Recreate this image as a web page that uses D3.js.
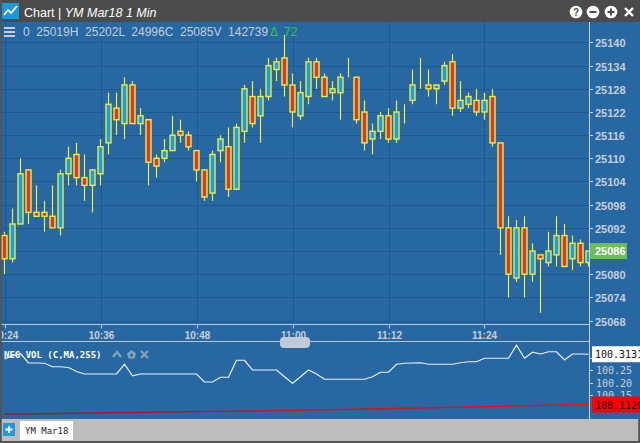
<!DOCTYPE html>
<html>
<head>
<meta charset="utf-8">
<script src="https://cdn.jsdelivr.net/npm/d3@7"></script>
<style>
  body { margin: 0; background: #4b4b4b; overflow: hidden; }
  svg { display: block; }
</style>
</head>
<body>
<svg width="640" height="443"></svg>
<script>
// one-minute bars, YM Mar18, starting 10:24
const startTime = "10:24";
const opens = [25090,25084,25093,25107,25096,25096,25095,25092,25106,25111,25105,25103,25106,25114,25123,25119,25129,25119,25120,25110,
  25110,25112,25117,25116,25112,25107,25101,25112,25113,25102,25117,25126,25121,25126,25133,25136,25129,25121,25126,25135,
  25131,25127,25127,25131,25131,25122,25115,25117,25121,25115,25123,25125,25130,25129,25128,25130,25135,25123,25124,25125,
  25122,25126,25114,25092,25079,25092,25080,25085,25083,25085,25090,25084,25088,25083];
const highs = [25091,25097,25110,25107,25103,25099,25103,25107,25113,25114,25111,25107,25115,25127,25127,25131,25130,25123,25120,25111,
  25115,25121,25120,25117,25112,25107,25112,25116,25118,25119,25129,25130,25128,25136,25136,25142,25132,25130,25136,25136,
  25132,25130,25132,25136,25131,25125,25119,25122,25123,25125,25124,25133,25136,25133,25129,25135,25137,25130,25127,25128,
  25127,25128,25114,25095,25094,25095,25088,25085,25091,25095,25093,25090,25089,25086];
const lows = [25080,25083,25093,25093,25095,25091,25092,25090,25103,25103,25099,25096,25103,25111,25116,25115,25119,25116,25103,25105,
  25109,25112,25114,25112,25104,25099,25099,25109,25100,25102,25114,25118,25114,25125,25130,25126,25118,25120,25124,25128,
  25126,25125,25120,25131,25119,25112,25111,25115,25114,25114,25119,25124,25128,25126,25124,25129,25121,25122,25123,25121,
  25120,25113,25085,25074,25078,25074,25078,25070,25082,25082,25082,25081,25082,25082];
const closes = [25084,25093,25106,25096,25095,25095,25092,25106,25110,25105,25103,25107,25113,25124,25120,25129,25119,25121,25109,25108,
  25112,25116,25116,25113,25107,25100,25111,25115,25102,25118,25128,25119,25126,25134,25135,25129,25122,25127,25135,25131,
  25126,25128,25131,25131,25120,25114,25117,25121,25115,25122,25123,25129,25130,25128,25129,25134,25123,25125,25126,25122,
  25125,25114,25092,25080,25092,25080,25086,25084,25086,25090,25082,25088,25083,25086];

// NEG VOL study, one value per bar
const negVol = [100.294,100.306,100.316,100.278,100.278,100.277,100.263,100.263,100.260,100.244,100.234,100.234,100.234,100.234,100.234,
  100.273,100.227,100.234,100.234,100.234,100.234,100.234,100.234,100.234,100.234,100.202,100.202,100.221,100.221,100.289,
  100.289,100.250,100.250,100.250,100.250,100.223,100.197,100.223,100.250,100.234,100.213,100.213,100.213,100.213,100.213,
  100.213,100.223,100.241,100.241,100.273,100.277,100.278,100.279,100.273,100.273,100.273,100.273,100.279,100.283,100.283,
  100.297,100.297,100.297,100.297,100.349,100.297,100.321,100.314,100.323,100.323,100.290,100.314,100.314,100.3131];
// moving average read at a few bars
const maBars = [0, 18, 37, 55, 73];
const maValues = [100.073, 100.081, 100.089, 100.100, 100.1120];

const priceTicks = [25068, 25074, 25080, 25086, 25092, 25098, 25104, 25110, 25116, 25122, 25128, 25134, 25140];
const studyTicks = [100.15, 100.20, 100.25, 100.30];
const timeTicks = ["10:24", "10:36", "10:48", "11:00", "11:12", "11:24"];

const hudText = "0  25019H  25202L  24996C  25085V  142739";
const hudChange = "72";
const studyName = "NEG VOL (C,MA,255)";

const bg = "#2767a2", grid = "#1d5890", axisText = "#c6cfda";
const upFill = "#1aa0e2", downFill = "#d63a2a", edge = "#f4ec3a";
const sans = "'Liberation Sans', Arial, sans-serif";
const mono = "'DejaVu Sans Mono', monospace";

const svg = d3.select("svg");
const parse = d3.timeParse("%H:%M");
const t0 = parse(startTime);

let bars = opens.map((o, i) => ({
  t: d3.timeMinute.offset(t0, i), o: o, h: highs[i], l: lows[i], c: closes[i]
}));

let x = d3.scaleTime()
  .domain([t0, d3.timeMinute.offset(t0, opens.length - 1)])
  .range([4.5, 588.5]);
let y = d3.scaleLinear().domain([25067.1, 25145.3]).range([324, 22]);
let yv = d3.scaleLinear().domain([100.058, 100.366]).range([418, 341]);

// backgrounds
svg.append("rect").attr("width", 640).attr("height", 443).attr("fill", "#4b4b4b");
svg.append("rect").attr("x", 1.5).attr("y", 22).attr("width", 638.5).attr("height", 397).attr("fill", bg);
svg.append("rect").attr("x", 1.5).attr("y", 419).attr("width", 637).attr("height", 22).attr("fill", "#bdbdbd");

let defs = svg.append("defs");
defs.append("clipPath").attr("id", "plot")
  .append("rect").attr("x", 0).attr("y", 22).attr("width", 589).attr("height", 302);
defs.append("clipPath").attr("id", "lower")
  .append("rect").attr("x", 0).attr("y", 342).attr("width", 589).attr("height", 77);
let grad = defs.append("linearGradient").attr("id", "maGrad")
  .attr("gradientUnits", "userSpaceOnUse").attr("x1", 0).attr("x2", 589).attr("y1", 0).attr("y2", 0);
grad.append("stop").attr("offset", 0).attr("stop-color", "#9c1830");
grad.append("stop").attr("offset", 1).attr("stop-color", "#ff0a0a");

// grid
let g = svg.append("g").attr("clip-path", "url(#plot)");
g.selectAll(".hgrid").data(priceTicks).enter().append("line")
  .attr("x1", 0).attr("x2", 589)
  .attr("y1", d => Math.round(y(d)) + 0.5).attr("y2", d => Math.round(y(d)) + 0.5)
  .attr("stroke", grid);
g.selectAll(".vgrid").data(timeTicks).enter().append("line")
  .attr("x1", d => Math.round(x(parse(d))) + 0.5).attr("x2", d => Math.round(x(parse(d))) + 0.5)
  .attr("y1", 22).attr("y2", 324)
  .attr("stroke", grid);

// header row
let hud = svg.append("g");
[27, 31, 35].forEach(yy => hud.append("rect").attr("x", 4).attr("y", yy).attr("width", 11).attr("height", 2).attr("fill", axisText));
hud.append("text").attr("x", 23).attr("y", 35.5).attr("xml:space", "preserve")
  .attr("font-family", sans).attr("font-size", 12).attr("fill", axisText).text(hudText);
hud.append("text").attr("x", 270).attr("y", 35.5)
  .attr("font-family", sans).attr("font-size", 12).attr("fill", "#34c934")
  .text("Δ ").append("tspan").attr("x", 284).text(hudChange);

// candles
let cg = svg.append("g").attr("clip-path", "url(#plot)");
cg.selectAll(".wick").data(bars).enter().append("line")
  .attr("x1", d => x(d.t)).attr("x2", d => x(d.t))
  .attr("y1", d => y(d.h)).attr("y2", d => y(d.l))
  .attr("stroke", edge).attr("stroke-width", 1.2);
cg.selectAll(".body").data(bars).enter().append("rect")
  .attr("x", d => x(d.t) - 2.5).attr("width", 5)
  .attr("y", d => y(Math.max(d.o, d.c)))
  .attr("height", d => Math.abs(y(d.o) - y(d.c)))
  .attr("fill", d => d.c > d.o ? upFill : (d.c < d.o ? downFill : "none"))
  .attr("stroke", edge).attr("stroke-width", 1.4);

// x axis
svg.append("line").attr("x1", 0).attr("x2", 589).attr("y1", 324.5).attr("y2", 324.5).attr("stroke", "#b5c7da");
let xt = svg.append("g").selectAll("g").data(timeTicks).enter().append("g")
  .attr("transform", d => "translate(" + (Math.round(x(parse(d))) + 0.5) + ",0)");
xt.append("line").attr("y1", 324).attr("y2", 328.5).attr("stroke", "#b5c7da");
xt.append("text").attr("y", 339).attr("text-anchor", "middle")
  .attr("font-family", sans).attr("font-weight", "bold").attr("font-size", 10).attr("fill", axisText)
  .text(d => d);
svg.append("rect").attr("x", 280).attr("y", 337).attr("width", 30).attr("height", 11).attr("rx", 4).attr("fill", "#c2c9d7");
svg.append("line").attr("x1", 0).attr("x2", 589).attr("y1", 341.5).attr("y2", 341.5).attr("stroke", "#b5c7da");

// y axis (price)
svg.append("line").attr("x1", 589.5).attr("x2", 589.5).attr("y1", 22).attr("y2", 419).attr("stroke", "#c8d4e0");
let yt = svg.append("g").selectAll("g").data(priceTicks).enter().append("g")
  .attr("transform", d => "translate(0," + (Math.round(y(d)) + 0.5) + ")");
yt.append("line").attr("x1", 589).attr("x2", 593).attr("stroke", "#c8d4e0");
yt.append("text").attr("x", 595).attr("y", 4)
  .attr("font-family", sans).attr("font-weight", "bold").attr("font-size", 11).attr("fill", axisText)
  .text(d => d);

let lastClose = closes[closes.length - 1];
svg.append("rect").attr("x", 590).attr("y", y(lastClose) - 8).attr("width", 37).attr("height", 16).attr("fill", "#6dbd5b");
svg.append("text").attr("x", 595).attr("y", y(lastClose) + 4)
  .attr("font-family", sans).attr("font-weight", "bold").attr("font-size", 11).attr("fill", "#ffffff")
  .text(lastClose);

// lower study panel
let lg = svg.append("g").attr("clip-path", "url(#lower)");
let maLine = d3.line().x(d => x(bars[d[0]].t)).y(d => yv(d[1]));
lg.append("path").datum(maBars.map((b, i) => [b, maValues[i]]))
  .attr("d", maLine).attr("fill", "none").attr("stroke", "url(#maGrad)").attr("stroke-width", 1.3);
let volLine = d3.line().x((d, i) => x(bars[i].t)).y(d => yv(d));
lg.append("path").datum(negVol)
  .attr("d", volLine).attr("fill", "none").attr("stroke", "#eef2f7").attr("stroke-width", 1.2);

let st = svg.append("g").selectAll("g").data(studyTicks).enter().append("g")
  .attr("transform", d => "translate(0," + (Math.round(yv(d)) + 0.5) + ")");
st.append("line").attr("x1", 589).attr("x2", 593).attr("stroke", "#c8d4e0");
st.append("text").attr("x", 596).attr("y", 3.5)
  .attr("font-family", mono).attr("font-size", 10).attr("fill", axisText)
  .text(d => d3.format(".2f")(d));

let fmt4 = d3.format(".4f");
let lastVol = negVol[negVol.length - 1], lastMa = maValues[maValues.length - 1];
svg.append("rect").attr("x", 592).attr("y", yv(lastVol) - 8).attr("width", 48).attr("height", 16).attr("fill", "#ffffff");
svg.append("text").attr("x", 595).attr("y", yv(lastVol) + 4)
  .attr("font-family", mono).attr("font-size", 10).attr("fill", "#111").text(fmt4(lastVol));
svg.append("rect").attr("x", 592).attr("y", yv(lastMa) - 8).attr("width", 48).attr("height", 16).attr("fill", "#ff0000");
svg.append("text").attr("x", 595).attr("y", yv(lastMa) + 4)
  .attr("font-family", mono).attr("font-size", 10).attr("fill", "#111").text(fmt4(lastMa));

// study label and its little controls
svg.append("text").attr("x", 4).attr("y", 357.5)
  .attr("font-family", mono).attr("font-weight", "bold").attr("font-size", 9).attr("fill", "#ffffff")
  .text(studyName);
let ic = "#8ba1bb";
svg.append("path").attr("d", "M113,357 L117,352 L121,357").attr("fill", "none").attr("stroke", ic).attr("stroke-width", 2.2);
svg.append("path").attr("d", "M131.5,350 L136,353.5 L134.5,358.5 L128.5,358.5 L127,353.5 Z").attr("fill", ic);
svg.append("circle").attr("cx", 131.5).attr("cy", 355).attr("r", 1.5).attr("fill", bg);
svg.append("path").attr("d", "M141,351 L148,358 M148,351 L141,358").attr("stroke", ic).attr("stroke-width", 2.2);

// title bar
svg.append("rect").attr("x", 2).attr("y", 3).attr("width", 17).attr("height", 16).attr("fill", "#1c99d9");
svg.append("polyline").attr("points", "4,15 8,10 11,13 17,6").attr("fill", "none").attr("stroke", "#ffffff").attr("stroke-width", 1.8);
let tt = svg.append("text").attr("x", 24).attr("y", 16.5).attr("xml:space", "preserve")
  .attr("font-family", sans).attr("font-size", 12.5).attr("fill", "#ffffff");
tt.append("tspan").text("Chart | ");
tt.append("tspan").attr("font-style", "italic").text("YM Mar18 1 Min");

[576, 593, 611].forEach((cx, i) => {
  svg.append("circle").attr("cx", cx).attr("cy", 12).attr("r", 6.3).attr("fill", "#ffffff");
  if (i === 0) {
    svg.append("text").attr("x", cx).attr("y", 15.8).attr("text-anchor", "middle")
      .attr("font-family", sans).attr("font-weight", "bold").attr("font-size", 10).attr("fill", "#4b4b4b").text("?");
  } else {
    svg.append("rect").attr("x", cx - 3.5).attr("y", 11).attr("width", 7).attr("height", 2).attr("fill", "#4b4b4b");
    if (i === 2) svg.append("rect").attr("x", cx - 1).attr("y", 8.5).attr("width", 2).attr("height", 7).attr("fill", "#4b4b4b");
  }
});
svg.append("path").attr("d", "M625,8 L633,16 M633,8 L625,16").attr("stroke", "#ffffff").attr("stroke-width", 2.4);

// bottom tab bar
svg.append("rect").attr("x", 3).attr("y", 423).attr("width", 12).attr("height", 13).attr("fill", "#1b9be0");
svg.append("path").attr("d", "M9,426 V433 M5.5,429.5 H12.5").attr("stroke", "#ffffff").attr("stroke-width", 2);
svg.append("rect").attr("x", 20).attr("y", 421).attr("width", 53).attr("height", 19).attr("fill", "#ffffff");
svg.append("text").attr("x", 25).attr("y", 434)
  .attr("font-family", mono).attr("font-size", 9).attr("fill", "#222").text("YM Mar18");

// frame
svg.append("rect").attr("x", 0).attr("y", 0).attr("width", 1.5).attr("height", 443).attr("fill", "#555");
svg.append("rect").attr("x", 0).attr("y", 441).attr("width", 640).attr("height", 2).attr("fill", "#555");
svg.append("rect").attr("x", 638.5).attr("y", 419).attr("width", 1.5).attr("height", 24).attr("fill", "#555");
</script>
</body>
</html>
